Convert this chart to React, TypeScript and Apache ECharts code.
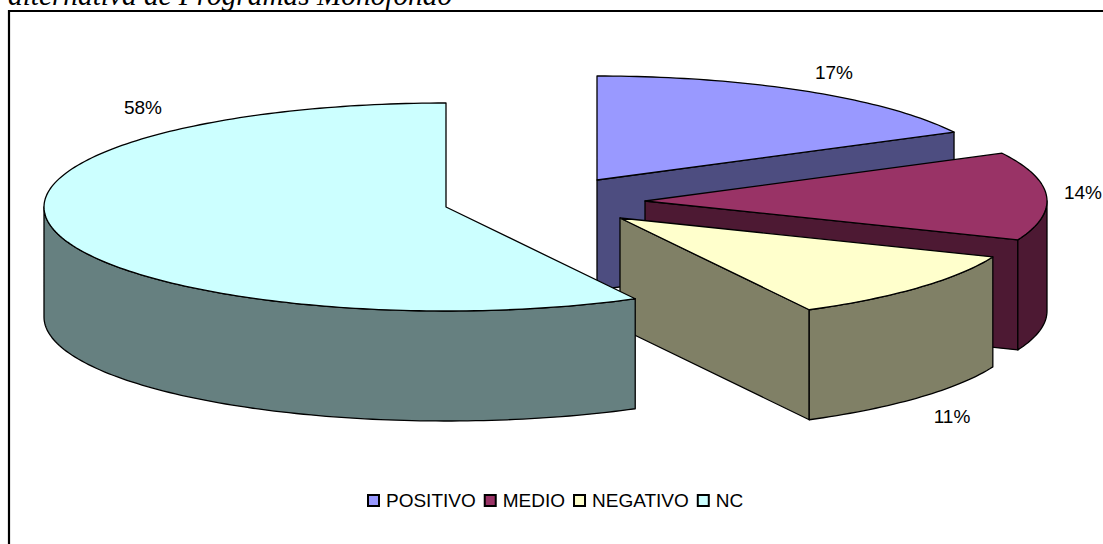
import React, { useEffect, useRef } from "react";
import * as echarts from "echarts";

const categories = ["POSITIVO", "MEDIO", "NEGATIVO", "NC"];
const values = [17.4, 13.7, 11.1, 57.8];
const percentLabels = ["17%", "14%", "11%", "58%"];
const topColors = ["#9999FF", "#993366", "#FFFFCC", "#CCFFFF"];
const wallColors = ["#4D4D80", "#4D1933", "#808066", "#668080"];
const titleText = "alternativa de Programas Monofondo";

// layout of the exploded slices
const apexes = [
  [597, 180],
  [645, 201],
  [620, 218],
  [446, 207],
];
const labelAnchors = [
  [834, 72],
  [1083, 192],
  [952, 416],
  [143, 107],
];
const RX = 402;
const RY = 104;
const DEPTH = 110;

const rim = (cx: number, cy: number, a: number) => [cx + RX * Math.sin(a), cy - RY * Math.cos(a)];

function arcPoints(cx: number, cy: number, a0: number, a1: number, dy = 0) {
  const n = Math.max(2, Math.ceil(Math.abs(a1 - a0) / 0.02));
  const pts: number[][] = [];
  for (let i = 0; i <= n; i++) {
    const p = rim(cx, cy, a0 + ((a1 - a0) * i) / n);
    pts.push([p[0], p[1] + dy]);
  }
  return pts;
}

function makeRender(index: number) {
  return () => {
    const total = values.reduce((s, v) => s + v, 0);
    const before = values.slice(0, index).reduce((s, v) => s + v, 0);
    const a0 = (before / total) * 2 * Math.PI;
    const a1 = ((before + values[index]) / total) * 2 * Math.PI;
    const [cx, cy] = apexes[index];
    const edge = { stroke: "#000", lineWidth: 1.3, lineJoin: "round" };
    const children: any[] = [];

    // radial wall at the end of the slice, when it faces the viewer
    if (Math.sin(a1) > 0.001) {
      const p = rim(cx, cy, a1);
      children.push({
        type: "polygon",
        shape: { points: [[cx, cy], p, [p[0], p[1] + DEPTH], [cx, cy + DEPTH]] },
        style: { fill: wallColors[index], ...edge },
      });
    }
    // curved outer wall: only the front half of the rim
    const w0 = Math.max(a0, Math.PI / 2);
    const w1 = Math.min(a1, (3 * Math.PI) / 2);
    if (w1 > w0) {
      const top = arcPoints(cx, cy, w0, w1);
      const bottom = arcPoints(cx, cy, w0, w1, DEPTH).reverse();
      children.push({
        type: "polygon",
        shape: { points: [...top, ...bottom] },
        style: { fill: wallColors[index], ...edge },
      });
    }
    // top face
    children.push({
      type: "polygon",
      shape: { points: [[cx, cy], ...arcPoints(cx, cy, a0, a1)] },
      style: { fill: topColors[index], ...edge },
    });
    // percentage label
    children.push({
      type: "text",
      style: {
        text: percentLabels[index],
        x: labelAnchors[index][0],
        y: labelAnchors[index][1],
        fill: "#000",
        font: '19px "Liberation Sans", Arial, sans-serif',
        align: "center",
        verticalAlign: "middle",
      },
    });
    return { type: "group", children };
  };
}

export default function App() {
  const ref = useRef<HTMLDivElement>(null);
  useEffect(() => {
    document.body.style.margin = "0";
    const chart = echarts.init(ref.current!, undefined, { renderer: "svg" });
    chart.setOption({
      animation: false,
      backgroundColor: "#fff",
      legend: {
        data: categories,
        left: 362,
        top: 486,
        itemWidth: 11,
        itemHeight: 11,
        itemGap: 8,
        icon: "rect",
        selectedMode: false,
        textStyle: {
          color: "#000",
          fontSize: 19,
          fontFamily: '"Liberation Sans", Arial, sans-serif',
          padding: [0, 0, 0, 2],
        },
      },
      graphic: [
        {
          type: "text",
          z: 10,
          style: {
            text: titleText,
            x: 8,
            y: 9,
            fill: "#000",
            font: 'italic 29.3px "Liberation Serif", "Times New Roman", serif',
            verticalAlign: "bottom",
          },
        },
        {
          type: "polyline",
          z: -1,
          shape: { points: [[9, 544], [9, 11], [1103, 11]] },
          style: { fill: "none", stroke: "#000", lineWidth: 2.2 },
        },
      ],
      series: categories.map((name, i) => ({
        type: "custom",
        name,
        coordinateSystem: "none",
        data: [values[i]],
        silent: true,
        itemStyle: { color: topColors[i], borderColor: "#000", borderWidth: 1 },
        renderItem: makeRender(i),
      })),
    });
    return () => chart.dispose();
  }, []);
  return <div ref={ref} style={{ width: 1103, height: 544 }} />;
}
